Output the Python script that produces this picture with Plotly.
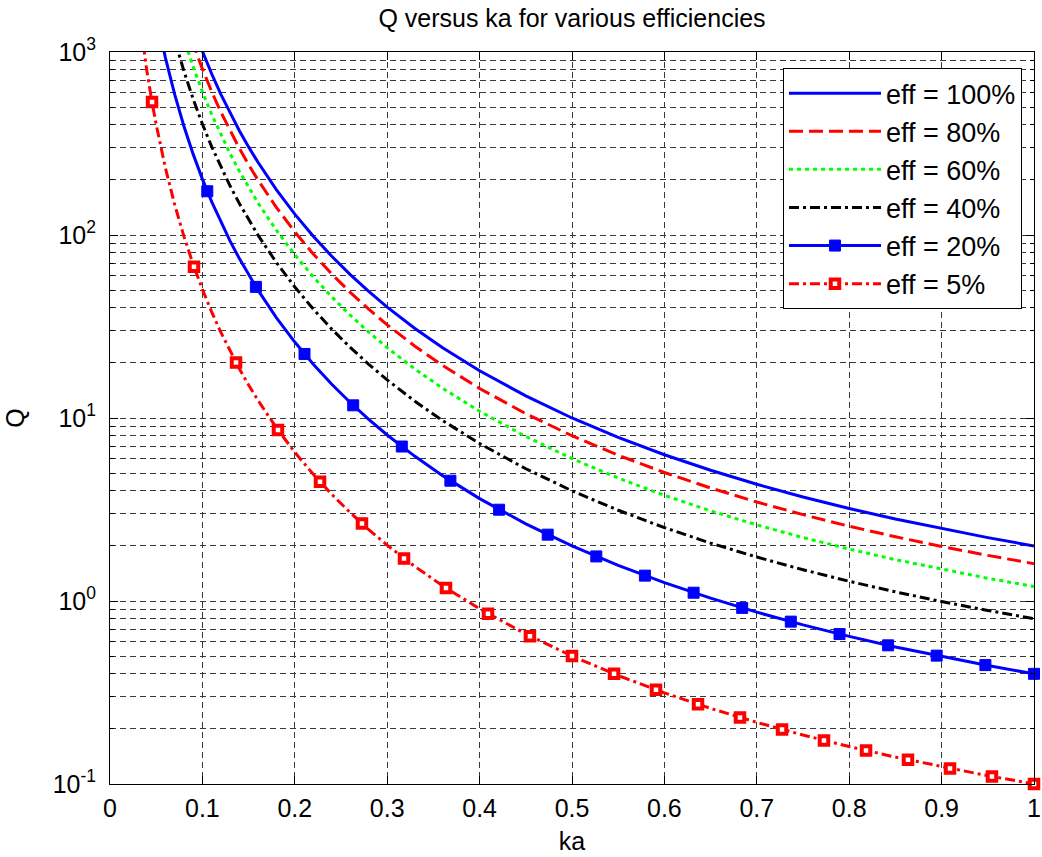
import plotly.graph_objects as go

# ---------------- data ----------------
KA = [0.05, 0.06, 0.07, 0.08, 0.09, 0.10, 0.11, 0.12, 0.13, 0.14, 0.15, 0.16,
      0.18, 0.20, 0.22, 0.24, 0.26, 0.28, 0.30, 0.33, 0.36, 0.40, 0.45, 0.50,
      0.55, 0.60, 0.65, 0.70, 0.75, 0.80, 0.85, 0.90, 0.95, 1.00]

Q_EFF100 = [8020, 4646, 2930, 1966, 1383, 1010, 760.4, 587.0, 462.9, 371.6, 303.0, 250.4,
            177.0, 130.0, 98.46, 76.51, 60.74, 49.13, 40.37, 30.86, 24.21, 18.13, 13.20, 10.0,
            7.829, 6.296, 5.180, 4.344, 3.704, 3.203, 2.805, 2.483, 2.219, 2.0]
Q_EFF80 = [6416, 3717, 2344, 1573, 1106, 808.0, 608.3, 469.6, 370.3, 297.3, 242.4, 200.3,
           141.6, 104.0, 78.77, 61.21, 48.59, 39.30, 32.30, 24.69, 19.37, 14.50, 10.56, 8.0,
           6.263, 5.037, 4.144, 3.475, 2.963, 2.562, 2.244, 1.986, 1.775, 1.6]
Q_EFF60 = [4812, 2788, 1758, 1180, 829.8, 606.0, 456.2, 352.2, 277.7, 223.0, 181.8, 150.2,
           106.2, 78.0, 59.08, 45.91, 36.44, 29.48, 24.22, 18.52, 14.53, 10.88, 7.92, 6.0,
           4.697, 3.778, 3.108, 2.606, 2.222, 1.922, 1.683, 1.490, 1.331, 1.2]
Q_EFF40 = [3208, 1858, 1172, 786.4, 553.2, 404.0, 304.2, 234.8, 185.2, 148.6, 121.2, 100.2,
           70.8, 52.0, 39.38, 30.60, 24.30, 19.65, 16.15, 12.34, 9.684, 7.25, 5.28, 4.0,
           3.132, 2.518, 2.072, 1.738, 1.482, 1.281, 1.122, 0.993, 0.888, 0.8]
Q_EFF20 = [1604, 929.2, 586.0, 393.2, 276.6, 202.0, 152.1, 117.4, 92.58, 74.32, 60.6, 50.08,
           35.4, 26.0, 19.69, 15.30, 12.15, 9.826, 8.074, 6.172, 4.842, 3.626, 2.64, 2.0,
           1.566, 1.259, 1.036, 0.8688, 0.7408, 0.6406, 0.561, 0.4966, 0.4438, 0.4]

KA_EFF20_MARK = [0.1053, 0.1579, 0.2105, 0.2632, 0.3158, 0.3684, 0.4211, 0.4737, 0.5263,
                 0.5789, 0.6316, 0.6842, 0.7368, 0.7895, 0.8421, 0.8947, 0.9474, 1.0]
Q_EFF20_MARK = [173.4, 52.07, 22.39, 11.73, 6.985, 4.543, 3.154, 2.304, 1.752,
                1.376, 1.110, 0.9168, 0.7714, 0.6598, 0.5725, 0.5028, 0.4464, 0.4]

KA_EFF5 = [0.03, 0.035, 0.04, 0.045, 0.05, 0.06, 0.07, 0.08, 0.09, 0.10, 0.11, 0.12, 0.13,
           0.14, 0.15, 0.16, 0.18, 0.20, 0.22, 0.24, 0.26, 0.28, 0.30, 0.33, 0.36, 0.40,
           0.45, 0.50, 0.55, 0.60, 0.65, 0.70, 0.75, 0.80, 0.85, 0.90, 0.95, 1.00]
Q_EFF5 = [1853, 1168, 782.5, 549.8, 401.0, 232.3, 146.5, 98.3, 69.15, 50.5, 38.02, 29.35, 23.15,
          18.58, 15.15, 12.52, 8.85, 6.5, 4.923, 3.826, 3.037, 2.457, 2.019, 1.543, 1.211, 0.9065,
          0.66, 0.5, 0.3915, 0.3148, 0.259, 0.2172, 0.1852, 0.1602, 0.1403, 0.1242, 0.111, 0.1]

KA_EFF5_MARK = [0.0455, 0.0909, 0.1364, 0.1818, 0.2273, 0.2727, 0.3182, 0.3636, 0.4091,
                0.4545, 0.5, 0.5455, 0.5909, 0.6364, 0.6818, 0.7273, 0.7727, 0.8182,
                0.8636, 0.9091, 0.9545, 1.0]
Q_EFF5_MARK = [533.5, 67.1, 20.08, 8.594, 4.479, 2.648, 1.709, 1.177, 0.8527,
               0.6424, 0.5, 0.3998, 0.3269, 0.2726, 0.2311, 0.1987, 0.1731, 0.1524,
               0.1355, 0.1216, 0.1099, 0.1]

X_TICKS = [0, 0.1, 0.2, 0.3, 0.4, 0.5, 0.6, 0.7, 0.8, 0.9, 1]
X_TICKTEXT = ["0", "0.1", "0.2", "0.3", "0.4", "0.5", "0.6", "0.7", "0.8", "0.9", "1"]
Y_TICKS = [0.1, 1, 10, 100, 1000]
Y_TICKTEXT = ["10<sup>-1</sup>", "10<sup>0</sup>", "10<sup>1</sup>", "10<sup>2</sup>", "10<sup>3</sup>"]
Y_MINOR = [m * d for d in (0.1, 1, 10, 100) for m in (2, 3, 4, 5, 6, 7, 8, 9)]

LEGEND_NAMES = ["eff = 100%", "eff = 80%", "eff = 60%", "eff = 40%", "eff = 20%", "eff = 5%"]

# ---------------- styles ----------------
BLUE = "#0000FF"
RED = "#FF0000"
GREEN = "#00FF00"
BLACK = "#000000"
LW = 3
FONT = "Liberation Sans, Arial, sans-serif"
DASHDOT = "10px,4px,3px,4px"

fig = go.Figure()

fig.add_trace(go.Scatter(x=KA, y=Q_EFF100, mode="lines", name=LEGEND_NAMES[0],
                         line=dict(color=BLUE, width=LW)))
fig.add_trace(go.Scatter(x=KA, y=Q_EFF80, mode="lines", name=LEGEND_NAMES[1],
                         line=dict(color=RED, width=LW, dash="14px,6px")))
fig.add_trace(go.Scatter(x=KA, y=Q_EFF60, mode="lines", name=LEGEND_NAMES[2],
                         line=dict(color=GREEN, width=LW, dash="4px,4px")))
fig.add_trace(go.Scatter(x=KA, y=Q_EFF40, mode="lines", name=LEGEND_NAMES[3],
                         line=dict(color=BLACK, width=LW, dash=DASHDOT)))

# eff = 20 %
MK20 = dict(symbol="square", size=11, color=BLUE, line=dict(color=BLUE, width=1))
fig.add_trace(go.Scatter(x=KA, y=Q_EFF20, mode="lines", showlegend=False,
                         legendgroup="e20", line=dict(color=BLUE, width=LW)))
fig.add_trace(go.Scatter(x=KA_EFF20_MARK, y=Q_EFF20_MARK, mode="markers", showlegend=False,
                         legendgroup="e20", cliponaxis=False, marker=MK20))
fig.add_trace(go.Scatter(x=[None], y=[None], mode="lines+markers", name=LEGEND_NAMES[4],
                         legendgroup="e20", line=dict(color=BLUE, width=LW), marker=MK20))

# eff = 5 %
MK5 = dict(symbol="square", size=8.5, color="white", line=dict(color=RED, width=4))
fig.add_trace(go.Scatter(x=KA_EFF5, y=Q_EFF5, mode="lines", showlegend=False,
                         legendgroup="e5", line=dict(color=RED, width=LW, dash=DASHDOT)))
fig.add_trace(go.Scatter(x=KA_EFF5_MARK, y=Q_EFF5_MARK, mode="markers", showlegend=False,
                         legendgroup="e5", cliponaxis=False, marker=MK5))
fig.add_trace(go.Scatter(x=[None], y=[None], mode="lines+markers", name=LEGEND_NAMES[5],
                         legendgroup="e5", line=dict(color=RED, width=LW, dash=DASHDOT),
                         marker=MK5))

GRID = "#3a3a3a"

fig.update_layout(
    width=1042, height=857,
    paper_bgcolor="white", plot_bgcolor="white",
    margin=dict(l=110, r=8, t=52, b=73, autoexpand=False),
    font=dict(family=FONT, size=25, color="black"),
    title=dict(text="Q versus ka for various efficiencies", font=dict(size=25, color="black"),
               x=0.5, xref="paper", xanchor="center", y=1 - 18 / 857, yref="container",
               yanchor="middle"),
    showlegend=True,
    legend=dict(x=0.987, y=0.978, xanchor="right", yanchor="top",
                bgcolor="white", bordercolor="black", borderwidth=1,
                font=dict(size=27, color="black"), itemwidth=92,
                tracegroupgap=0),
    xaxis=dict(range=[0, 1], tickvals=X_TICKS, ticktext=X_TICKTEXT, automargin=False,
               showline=True, linecolor="black", linewidth=1, mirror="ticks",
               ticks="inside", ticklen=8, tickcolor="black",
               showgrid=True, gridcolor=GRID, gridwidth=1, griddash="6px,4px",
               zeroline=False, ticklabelstandoff=2,
               title=dict(text="ka", font=dict(size=25), standoff=11)),
    yaxis=dict(type="log", range=[-1, 3], tickvals=Y_TICKS, ticktext=Y_TICKTEXT, automargin=False,
               showline=True, linecolor="black", linewidth=1, mirror="ticks",
               ticks="inside", ticklen=8, tickcolor="black",
               showgrid=True, gridcolor=GRID, gridwidth=1, griddash="6px,4px",
               zeroline=False, ticklabelstandoff=8,
               minor=dict(tickvals=Y_MINOR, ticks="inside", ticklen=4, tickcolor="black",
                          showgrid=True, gridcolor=GRID, gridwidth=1, griddash="6px,4px"),
               title=dict(text="Q", font=dict(size=25), standoff=20)),
)

fig.write_html("out.html",
               config={"displayModeBar": False},
               post_script="document.body.style.margin='0';document.body.style.overflow='hidden';")
